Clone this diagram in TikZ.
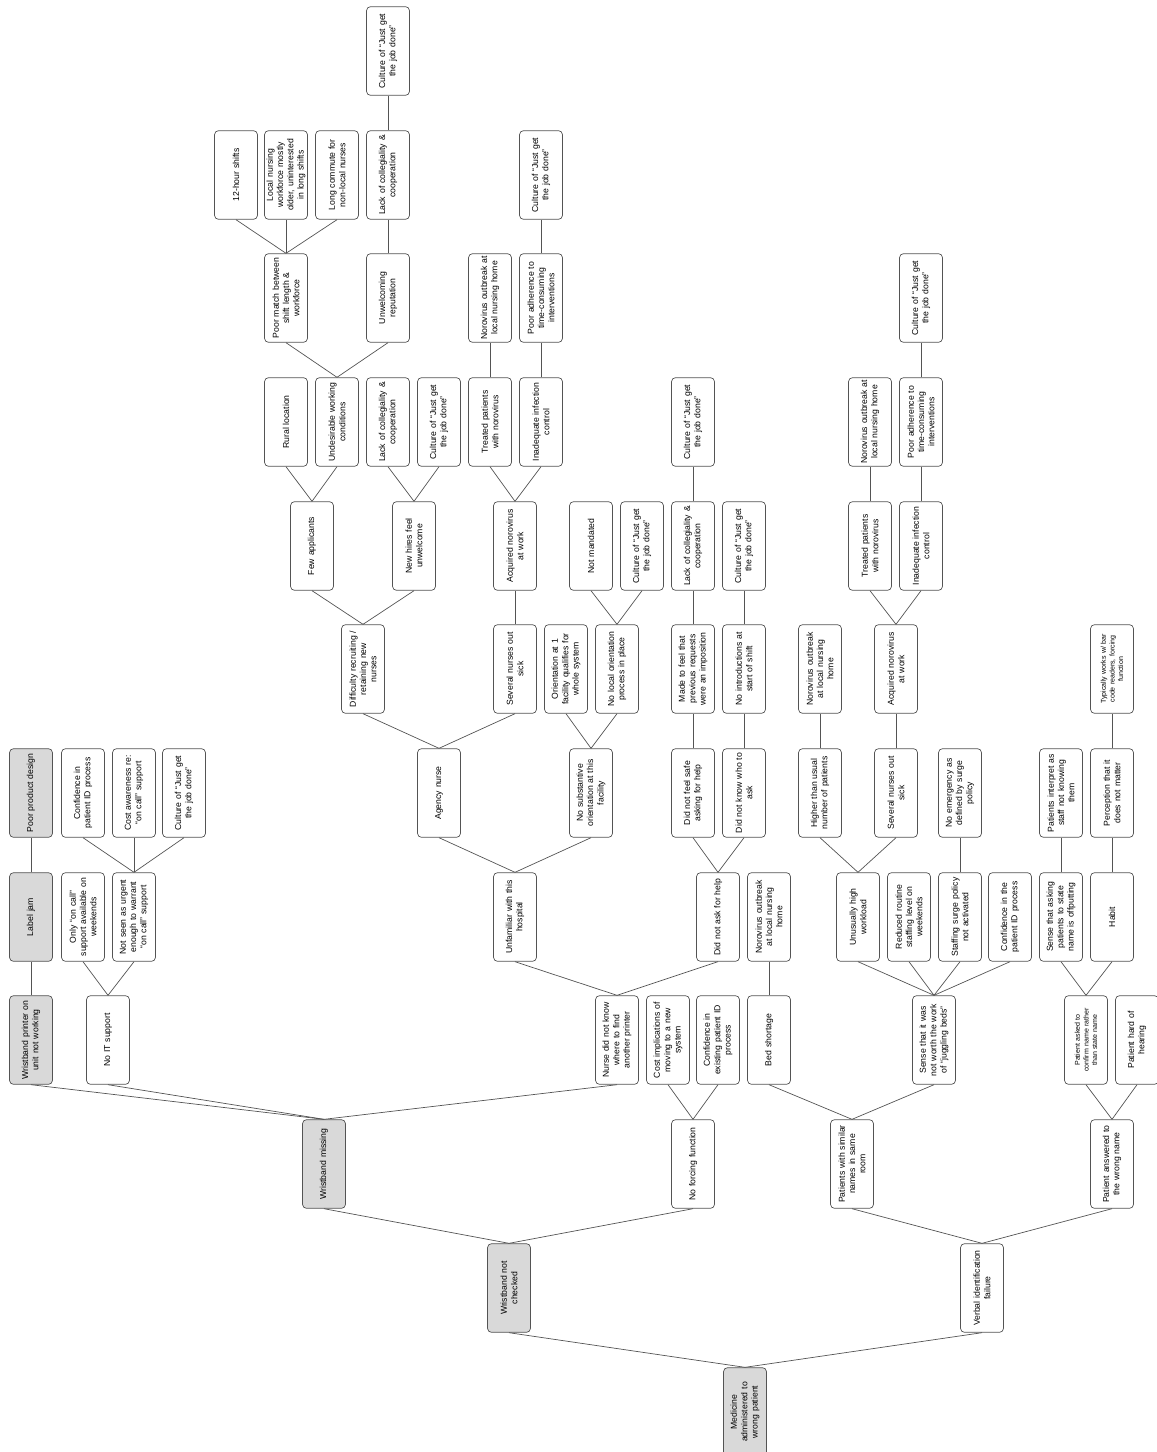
\documentclass[tikz,border=0pt]{standalone}
\usepackage{fontspec}
\setmainfont{Liberation Sans}
\usepackage{tikz}
\definecolor{boxgray}{rgb}{0.85,0.85,0.85}
\definecolor{linegray}{rgb}{0.33,0.33,0.33}
\tikzset{
  cause/.style={rectangle, rounded corners=1.2mm, rotate=90, minimum width=26.6mm, minimum height=12.9mm,
    inner sep=0pt, text width=26.6mm, align=center, draw=linegray, line width=0.6pt, fill=white,
    font=\fontsize{7.4}{8.8}\selectfont},
  topcause/.style={cause, fill=boxgray},
  smalltext/.style={font=\fontsize{6}{7.4}\selectfont},
  rclink/.style={draw=linegray, line width=0.6pt}
}

\begin{document}
\begin{tikzpicture}[x=0.3mm, y=-0.3mm]
\useasboundingbox (0,0) rectangle (1156,1452);
\node[topcause] (root) at (745,1412) {Medicine\\administered to\\wrong patient};
\node[topcause] (notchk) at (509,1288) {Wristband not\\checked};
\node[cause] (verbal) at (982,1288) {Verbal identification\\failure};
\node[topcause] (missing) at (324,1164) {Wristband missing};
\node[cause] (noforce) at (693,1164) {No forcing function};
\node[cause] (similar) at (852,1164) {Patients with similar\\names in same\\room};
\node[cause] (wrongname) at (1112,1164) {Patient answered to\\the wrong name};
\node[topcause] (printer) at (31,1040) {Wristband printer on\\unit not working};
\node[cause] (noit) at (108,1040) {No IT support};
\node[cause] (nofind) at (617,1040) {Nurse did not know\\where to find\\another printer};
\node[cause] (costimpl) at (668,1040) {Cost implications of\\moving to a new\\system};
\node[cause] (confexist) at (718,1040) {Confidence in\\existing patient ID\\process};
\node[cause] (bedshort) at (769,1040) {Bed shortage};
\node[cause] (juggle) at (934,1040) {Sense that it was\\not worth the work\\of ``juggling beds''};
\node[cause, smalltext] (confirm) at (1086,1040) {Patient asked to\\confirm name rather\\than state name};
\node[cause] (hearing) at (1137,1040) {Patient hard of\\hearing};
\node[topcause] (labeljam) at (31,917) {Label jam};
\node[cause] (oncall) at (83,917) {Only ``on call''\\support available on\\weekends};
\node[cause] (noturgent) at (134,917) {Not seen as urgent\\enough to warrant\\``on call'' support};
\node[cause] (unfam) at (515,917) {Unfamiliar with this\\hospital};
\node[cause] (noask) at (718,917) {Did not ask for help};
\node[cause] (noro1) at (769,917) {Norovirus outbreak\\at local nursing\\home};
\node[cause] (workload) at (858,917) {Unusually high\\workload};
\node[cause] (reduced) at (909,917) {Reduced routine\\staffing level on\\weekends};
\node[cause] (surge) at (960,917) {Staffing surge policy\\not activated};
\node[cause] (confpid) at (1010,917) {Confidence in the\\patient ID process};
\node[cause] (offput) at (1061,917) {Sense that asking\\patients to state\\name is offputting};
\node[cause] (habit) at (1112,917) {Habit};
\node[topcause] (design) at (31,793) {Poor product design};
\node[cause] (confid) at (83,793) {Confidence in\\patient ID process};
\node[cause] (costaware) at (134,793) {Cost awareness re:\\``on call'' support};
\node[cause] (culture1) at (184,793) {Culture of ``Just get\\the job done''};
\node[cause] (agency) at (439,793) {Agency nurse};
\node[cause] (nosubst) at (591,793) {No substantive\\orientation at this\\facility};
\node[cause] (notsafe) at (693,793) {Did not feel safe\\asking for help};
\node[cause] (nowho) at (744,793) {Did not know who to\\ask};
\node[cause] (higher) at (820,793) {Higher than usual\\number of patients};
\node[cause] (sick1) at (896,793) {Several nurses out\\sick};
\node[cause] (noemerg) at (960,793) {No emergency as\\defined by surge\\policy};
\node[cause] (interpret) at (1061,793) {Patients interpret as\\staff not knowing\\them};
\node[cause] (perception) at (1112,793) {Perception that it\\does not matter};
\node[cause] (recruit) at (363,669) {Difficulty recruiting /\\retaining new\\nurses};
\node[cause] (sick2) at (515,669) {Several nurses out\\sick};
\node[cause] (orient) at (566,669) {Orientation at 1\\facility qualifies for\\whole system};
\node[cause] (nolocal) at (617,669) {No local orientation\\process in place};
\node[cause] (imposition) at (693,669) {Made to feel that\\previous requests\\were an imposition};
\node[cause] (nointro) at (744,669) {No introductions at\\start of shift};
\node[cause] (noro2) at (820,669) {Norovirus outbreak\\at local nursing\\home};
\node[cause] (acquired1) at (896,669) {Acquired norovirus\\at work};
\node[cause, smalltext] (barcode) at (1112,669) {Typically works w/ bar\\code readers, forcing\\function};
\node[cause] (few) at (312,546) {Few applicants};
\node[cause] (newhires) at (414,546) {New hires feel\\unwelcome};
\node[cause] (acquired2) at (515,546) {Acquired norovirus\\at work};
\node[cause] (notmand) at (591,546) {Not mandated};
\node[cause] (culture2) at (642,546) {Culture of ``Just get\\the job done''};
\node[cause] (lack1) at (693,546) {Lack of collegiality \&\\cooperation};
\node[cause] (culture3) at (744,546) {Culture of ``Just get\\the job done''};
\node[cause] (treated1) at (870,546) {Treated patients\\with norovirus};
\node[cause] (inadeq1) at (921,546) {Inadequate infection\\control};
\node[cause] (rural) at (286,422) {Rural location};
\node[cause] (undesirable) at (337,422) {Undesirable working\\conditions};
\node[cause] (lack2) at (388,422) {Lack of collegiality \&\\cooperation};
\node[cause] (culture4) at (439,422) {Culture of ``Just get\\the job done''};
\node[cause] (treated2) at (490,422) {Treated patients\\with norovirus};
\node[cause] (inadeq2) at (541,422) {Inadequate infection\\control};
\node[cause] (culture5) at (693,422) {Culture of ``Just get\\the job done''};
\node[cause] (noro3) at (870,422) {Norovirus outbreak at\\local nursing home};
\node[cause] (adherence1) at (921,422) {Poor adherence to\\time-consuming\\interventions};
\node[cause] (poormatch) at (286,298) {Poor match between\\shift length \&\\workforce};
\node[cause] (unwelcoming) at (388,298) {Unwelcoming\\reputation};
\node[cause] (noro4) at (490,298) {Norovirus outbreak at\\local nursing home};
\node[cause] (adherence2) at (541,298) {Poor adherence to\\time-consuming\\interventions};
\node[cause] (culture6) at (921,298) {Culture of ``Just get\\the job done''};
\node[cause] (twelve) at (236,175) {12-hour shifts};
\node[cause] (older) at (286,175) {Local nursing\\workforce mostly\\older, uninterested\\in long shifts};
\node[cause] (commute) at (337,175) {Long commute for\\non-local nurses};
\node[cause] (lack3) at (388,175) {Lack of collegiality \&\\cooperation};
\node[cause] (culture7) at (541,175) {Culture of ``Just get\\the job done''};
\node[cause] (culture8) at (388,51) {Culture of ``Just get\\the job done''};
\draw[rclink] (root.east) -- (notchk.west);
\draw[rclink] (root.east) -- (verbal.west);
\draw[rclink] (notchk.east) -- (missing.west);
\draw[rclink] (notchk.east) -- (noforce.west);
\draw[rclink] (verbal.east) -- (similar.west);
\draw[rclink] (verbal.east) -- (wrongname.west);
\draw[rclink] (missing.east) -- (printer.west);
\draw[rclink] (missing.east) -- (noit.west);
\draw[rclink] (missing.east) -- (nofind.west);
\draw[rclink] (noforce.east) -- (costimpl.west);
\draw[rclink] (noforce.east) -- (confexist.west);
\draw[rclink] (similar.east) -- (bedshort.west);
\draw[rclink] (similar.east) -- (juggle.west);
\draw[rclink] (wrongname.east) -- (confirm.west);
\draw[rclink] (wrongname.east) -- (hearing.west);
\draw[rclink] (printer.east) -- (labeljam.west);
\draw[rclink] (labeljam.east) -- (design.west);
\draw[rclink] (noit.east) -- (oncall.west);
\draw[rclink] (noit.east) -- (noturgent.west);
\draw[rclink] (noturgent.east) -- (confid.west);
\draw[rclink] (noturgent.east) -- (costaware.west);
\draw[rclink] (noturgent.east) -- (culture1.west);
\draw[rclink] (nofind.east) -- (unfam.west);
\draw[rclink] (nofind.east) -- (noask.west);
\draw[rclink] (bedshort.east) -- (noro1.west);
\draw[rclink] (juggle.east) -- (workload.west);
\draw[rclink] (juggle.east) -- (reduced.west);
\draw[rclink] (juggle.east) -- (surge.west);
\draw[rclink] (juggle.east) -- (confpid.west);
\draw[rclink] (confirm.east) -- (offput.west);
\draw[rclink] (confirm.east) -- (habit.west);
\draw[rclink] (unfam.east) -- (agency.west);
\draw[rclink] (unfam.east) -- (nosubst.west);
\draw[rclink] (noask.east) -- (notsafe.west);
\draw[rclink] (noask.east) -- (nowho.west);
\draw[rclink] (workload.east) -- (higher.west);
\draw[rclink] (workload.east) -- (sick1.west);
\draw[rclink] (surge.east) -- (noemerg.west);
\draw[rclink] (offput.east) -- (interpret.west);
\draw[rclink] (habit.east) -- (perception.west);
\draw[rclink] (agency.east) -- (recruit.west);
\draw[rclink] (agency.east) -- (sick2.west);
\draw[rclink] (nosubst.east) -- (orient.west);
\draw[rclink] (nosubst.east) -- (nolocal.west);
\draw[rclink] (notsafe.east) -- (imposition.west);
\draw[rclink] (nowho.east) -- (nointro.west);
\draw[rclink] (higher.east) -- (noro2.west);
\draw[rclink] (sick1.east) -- (acquired1.west);
\draw[rclink] (perception.east) -- (barcode.west);
\draw[rclink] (recruit.east) -- (few.west);
\draw[rclink] (recruit.east) -- (newhires.west);
\draw[rclink] (sick2.east) -- (acquired2.west);
\draw[rclink] (nolocal.east) -- (notmand.west);
\draw[rclink] (nolocal.east) -- (culture2.west);
\draw[rclink] (imposition.east) -- (lack1.west);
\draw[rclink] (nointro.east) -- (culture3.west);
\draw[rclink] (acquired1.east) -- (treated1.west);
\draw[rclink] (acquired1.east) -- (inadeq1.west);
\draw[rclink] (few.east) -- (rural.west);
\draw[rclink] (few.east) -- (undesirable.west);
\draw[rclink] (newhires.east) -- (lack2.west);
\draw[rclink] (newhires.east) -- (culture4.west);
\draw[rclink] (acquired2.east) -- (treated2.west);
\draw[rclink] (acquired2.east) -- (inadeq2.west);
\draw[rclink] (lack1.east) -- (culture5.west);
\draw[rclink] (treated1.east) -- (noro3.west);
\draw[rclink] (inadeq1.east) -- (adherence1.west);
\draw[rclink] (undesirable.east) -- (poormatch.west);
\draw[rclink] (undesirable.east) -- (unwelcoming.west);
\draw[rclink] (treated2.east) -- (noro4.west);
\draw[rclink] (inadeq2.east) -- (adherence2.west);
\draw[rclink] (adherence1.east) -- (culture6.west);
\draw[rclink] (poormatch.east) -- (twelve.west);
\draw[rclink] (poormatch.east) -- (older.west);
\draw[rclink] (poormatch.east) -- (commute.west);
\draw[rclink] (unwelcoming.east) -- (lack3.west);
\draw[rclink] (adherence2.east) -- (culture7.west);
\draw[rclink] (lack3.east) -- (culture8.west);
\end{tikzpicture}
\end{document}
